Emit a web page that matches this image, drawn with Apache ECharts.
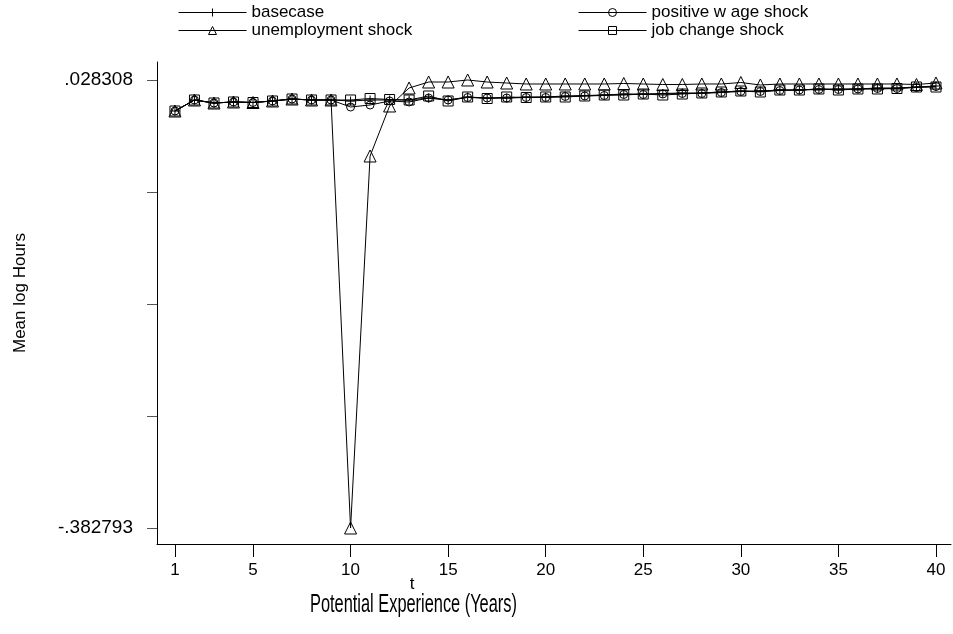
<!DOCTYPE html>
<html>
<head>
<meta charset="utf-8">
<script src="https://cdn.jsdelivr.net/npm/echarts@6/dist/echarts.min.js"></script>
<style>
  html, body { margin: 0; padding: 0; background: #fff; }
  #chart { width: 953px; height: 634px; }
</style>
</head>
<body>
<div id="chart"></div>
<script>
// Potential experience (years)
const t = [1, 2, 3, 4, 5, 6, 7, 8, 9, 10, 11, 12, 13, 14, 15, 16, 17, 18, 19, 20,
           21, 22, 23, 24, 25, 26, 27, 28, 29, 30, 31, 32, 33, 34, 35, 36, 37, 38, 39, 40];

// Mean log hours by scenario
const basecase = [-0.00014, 0.00996, 0.00720, 0.00812, 0.00766, 0.00904, 0.01087, 0.00996, 0.00996, 0.00904,
                  0.00996, 0.00996, 0.00996, 0.01179, 0.00996, 0.01271, 0.01179, 0.01179, 0.01271, 0.01271,
                  0.01363, 0.01409, 0.01454, 0.01546, 0.01546, 0.01592, 0.01638, 0.01638, 0.01730, 0.01821,
                  0.01821, 0.01913, 0.01913, 0.02005, 0.02005, 0.02005, 0.02097, 0.02097, 0.02188, 0.02280];

const positiveWage = [-0.00014, 0.00996, 0.00720, 0.00812, 0.00766, 0.00904, 0.01087, 0.00996, 0.00996, 0.00353,
                      0.00537, 0.00904, 0.00812, 0.01179, 0.00996, 0.01225, 0.01179, 0.01179, 0.01225, 0.01225,
                      0.01317, 0.01363, 0.01409, 0.01500, 0.01500, 0.01546, 0.01592, 0.01592, 0.01684, 0.01775,
                      0.01775, 0.01867, 0.01913, 0.01959, 0.01959, 0.02005, 0.02051, 0.02051, 0.02142, 0.02234];

const unemployment = [-0.00014, 0.00996, 0.00720, 0.00812, 0.00766, 0.00904, 0.01087, 0.00996, 0.00996, -0.382793,
                      -0.04143, 0.00445, 0.02097, 0.02647, 0.02647, 0.028308, 0.02647, 0.02555, 0.02464, 0.02464,
                      0.02464, 0.02464, 0.02464, 0.02510, 0.02464, 0.02418, 0.02418, 0.02464, 0.02464, 0.02601,
                      0.02372, 0.02464, 0.02464, 0.02464, 0.02464, 0.02464, 0.02464, 0.02464, 0.02418, 0.02555];

const jobChange = [-0.00014, 0.00996, 0.00720, 0.00812, 0.00766, 0.00904, 0.01087, 0.00996, 0.00996, 0.00996,
                   0.01133, 0.01041, 0.00996, 0.01363, 0.00904, 0.01271, 0.01133, 0.01271, 0.01225, 0.01271,
                   0.01271, 0.01363, 0.01454, 0.01454, 0.01546, 0.01454, 0.01546, 0.01638, 0.01730, 0.01821,
                   0.01730, 0.01913, 0.01913, 0.02005, 0.01913, 0.02005, 0.02005, 0.02051, 0.02188, 0.02188];

// Axis ticks
const xTicks = [1, 5, 10, 15, 20, 25, 30, 35, 40];
const yTicks = [-0.382793, -0.28001775, -0.1772425, -0.07446725, 0.028308];
const yLabelValues = [-0.382793, 0.028308];
const yLabelText = ['-.382793', '.028308'];

const FONT = '"Liberation Sans", Arial, sans-serif';

const pair = (ys) => t.map((x, i) => [x, ys[i]]);

const PLUS = 'path://M0,5L10,5M5,0L5,10';

function lineSeries(name, ys, symbol, size) {
  return {
    name: name,
    type: 'line',
    data: pair(ys),
    symbol: symbol,
    symbolSize: size,
    showAllSymbol: true,
    lineStyle: { color: '#000', width: 1 },
    itemStyle: { color: 'rgba(0,0,0,0)', borderColor: '#000', borderWidth: 1 },
    emphasis: { disabled: true },
    z: 3
  };
}

function legendAt(name, left, top) {
  return {
    data: [name],
    left: left,
    top: top,
    padding: 0,
    itemWidth: 68,
    itemHeight: 10,
    selectedMode: false,
    lineStyle: { width: 1, color: '#000' },
    itemStyle: { borderWidth: 1, borderColor: '#000', color: 'rgba(0,0,0,0)' },
    textStyle: { fontFamily: FONT, fontSize: 17, color: '#000' }
  };
}

const chart = echarts.init(document.getElementById('chart'), null, { renderer: 'canvas' });

chart.setOption({
  animation: false,
  backgroundColor: '#fff',
  grid: { left: 157, right: 2, top: 62, bottom: 90, containLabel: false },
  legend: [
    legendAt('basecase', 178, 4),
    legendAt('positive w age shock', 578, 4),
    legendAt('unemployment shock', 178, 22),
    legendAt('job change shock', 578, 22)
  ],
  xAxis: {
    type: 'value',
    min: 0.08,
    max: 40.77,
    name: 't',
    nameLocation: 'middle',
    nameGap: 32,
    nameMoveOverlap: false,
    nameTextStyle: { fontFamily: FONT, fontSize: 17, color: '#000', padding: [0, 284, 0, 0] },
    axisLine: { show: true, onZero: false, lineStyle: { color: '#000', width: 1 } },
    axisTick: { show: true, customValues: xTicks, length: 13, lineStyle: { color: '#000', width: 1 } },
    axisLabel: { customValues: xTicks, margin: 18, fontFamily: FONT, fontSize: 17, color: '#000' },
    splitLine: { show: false }
  },
  yAxis: {
    type: 'value',
    min: -0.397475,
    max: 0.044825,
    name: 'Mean log Hours',
    nameLocation: 'middle',
    nameGap: 128,
    nameMoveOverlap: false,
    nameRotate: 90,
    nameTextStyle: { fontFamily: FONT, fontSize: 17, color: '#000', padding: [0, 0, 0, 20] },
    axisLine: { show: true, onZero: false, lineStyle: { color: '#000', width: 1 } },
    axisTick: { show: true, customValues: yTicks, length: 10, lineStyle: { color: '#555', width: 1 } },
    axisLabel: {
      customValues: yLabelValues,
      margin: 24,
      fontFamily: FONT,
      fontSize: 19,
      color: '#000',
      formatter: function (v) {
        let best = 0;
        yLabelValues.forEach((y, i) => { if (Math.abs(y - v) < Math.abs(yLabelValues[best] - v)) best = i; });
        return yLabelText[best];
      }
    },
    splitLine: { show: false }
  },
  graphic: [
    {
      type: 'text',
      left: 413 - 103,
      top: 593,
      style: {
        text: 'Potential Experience (Years)',
        font: '25px ' + FONT,
        fill: '#000'
      },
      scaleX: 0.655
    }
  ],
  series: [
    lineSeries('basecase', basecase, PLUS, 9),
    lineSeries('positive w age shock', positiveWage, 'circle', 8),
    lineSeries('unemployment shock', unemployment, 'triangle', 12),
    lineSeries('job change shock', jobChange, 'rect', 10)
  ]
});
</script>
</body>
</html>
